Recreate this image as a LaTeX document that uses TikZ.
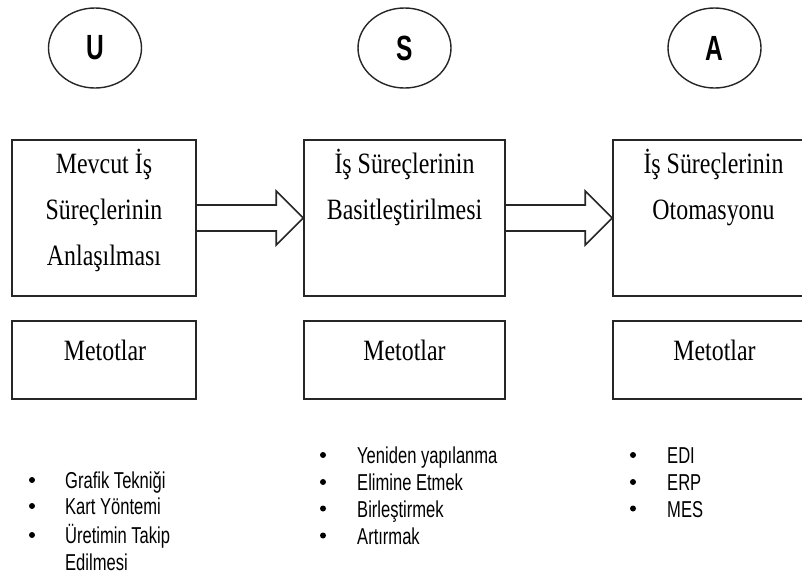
\documentclass[tikz,border=0pt]{standalone}
\usepackage{fontspec}
\newfontfamily\serifc{Liberation Serif}[FakeStretch=0.81]
\newfontfamily\sansc{Liberation Sans}[FakeStretch=0.72]
\newfontfamily\sansbold{Liberation Sans Bold}[FakeStretch=0.7]
\usetikzlibrary{shapes.geometric}
\begin{document}
\begin{tikzpicture}[x=1pt,y=-1pt,
  stagebox/.style={draw=black!85,line width=1.6pt,inner sep=0pt},
  badge/.style={ellipse,draw=black!85,line width=1.4pt,minimum width=93pt,minimum height=80pt,inner sep=0pt,
    font=\sansbold\fontsize{35pt}{35pt}\selectfont},
  headtxt/.style={align=center,inner sep=0pt,anchor=base,font=\serifc\fontsize{29.5pt}{46pt}\selectfont},
  itemtxt/.style={anchor=base west,inner sep=0pt,font=\sansc\fontsize{23pt}{26pt}\selectfont},
  bulletdot/.style={circle,fill=black,inner sep=0pt,minimum size=6pt},
  blockarrow/.style={draw=black!85,line width=1.6pt,line join=miter}
]
\clip (0,0) rectangle (802,574);
\fill[white] (0,0) rectangle (802,574);

% stage letters
\node[badge] (eU) at (95,48) {U};
\node[badge] (eS) at (404.5,48) {S};
\node[badge] (eA) at (714.5,48) {A};

% stage boxes
\node[stagebox,minimum width=184pt,minimum height=156pt] (b1) at (104,218) {};
\node[stagebox,minimum width=201pt,minimum height=156pt] (b2) at (404.5,218) {};
\node[stagebox,minimum width=201pt,minimum height=156pt] (b3) at (713.5,218) {};

% titles: the base anchor sits on the last line (first line at y=173)
\node[headtxt] (t1) at (104,265) {Mevcut İş\\Süreçlerinin\\Anlaşılması};
\node[headtxt] (t2) at (404.5,219) {İş Süreçlerinin\\Basitleştirilmesi};
\node[headtxt] (t3) at (713.5,219) {İş Süreçlerinin\\Otomasyonu};

% block arrows between the stages
\draw[blockarrow] ([yshift=13pt]b1.east) -- ([xshift=-27pt,yshift=13pt]b2.west)
  -- ([xshift=-27pt,yshift=27pt]b2.west) -- (b2.west)
  -- ([xshift=-27pt,yshift=-27pt]b2.west) -- ([xshift=-27pt,yshift=-13pt]b2.west)
  -- ([yshift=-13pt]b1.east);
\draw[blockarrow] ([yshift=13pt]b2.east) -- ([xshift=-27pt,yshift=13pt]b3.west)
  -- ([xshift=-27pt,yshift=27pt]b3.west) -- (b3.west)
  -- ([xshift=-27pt,yshift=-27pt]b3.west) -- ([xshift=-27pt,yshift=-13pt]b3.west)
  -- ([yshift=-13pt]b2.east);

% method boxes
\node[stagebox,minimum width=184pt,minimum height=78pt] (m1) at (104,360) {};
\node[stagebox,minimum width=201pt,minimum height=78pt] (m2) at (404.5,360) {};
\node[stagebox,minimum width=201pt,minimum height=78pt] (m3) at (713.5,360) {};
\node[headtxt] (mt1) at (105,360) {Metotlar};
\node[headtxt] (mt2) at (404.5,360) {Metotlar};
\node[headtxt] (mt3) at (714.5,360) {Metotlar};

% method lists
\node[bulletdot] (d11) at (32,480) {};
\node[bulletdot] (d12) at (32,506) {};
\node[bulletdot] (d13) at (32,535) {};
\node[itemtxt] (i11) at (65,488.5) {Grafik Tekniği};
\node[itemtxt] (i12) at (65,514.5) {Kart Yöntemi};
\node[itemtxt] (i13) at (65,543.5) {Üretimin Takip};
\node[itemtxt] (i14) at (65,570) {Edilmesi};

\node[bulletdot] (d21) at (323,455) {};
\node[bulletdot] (d22) at (323,482) {};
\node[bulletdot] (d23) at (323,508.5) {};
\node[bulletdot] (d24) at (323,535.5) {};
\node[itemtxt] (i21) at (357,463.5) {Yeniden yapılanma};
\node[itemtxt] (i22) at (357,490.5) {Elimine Etmek};
\node[itemtxt] (i23) at (357,517) {Birleştirmek};
\node[itemtxt] (i24) at (357,544) {Artırmak};

\node[bulletdot] (d31) at (633,455) {};
\node[bulletdot] (d32) at (633,482) {};
\node[bulletdot] (d33) at (633,508.5) {};
\node[itemtxt] (i31) at (667,463.5) {EDI};
\node[itemtxt] (i32) at (667,490.5) {ERP};
\node[itemtxt] (i33) at (667,517) {MES};
\end{tikzpicture}
\end{document}
